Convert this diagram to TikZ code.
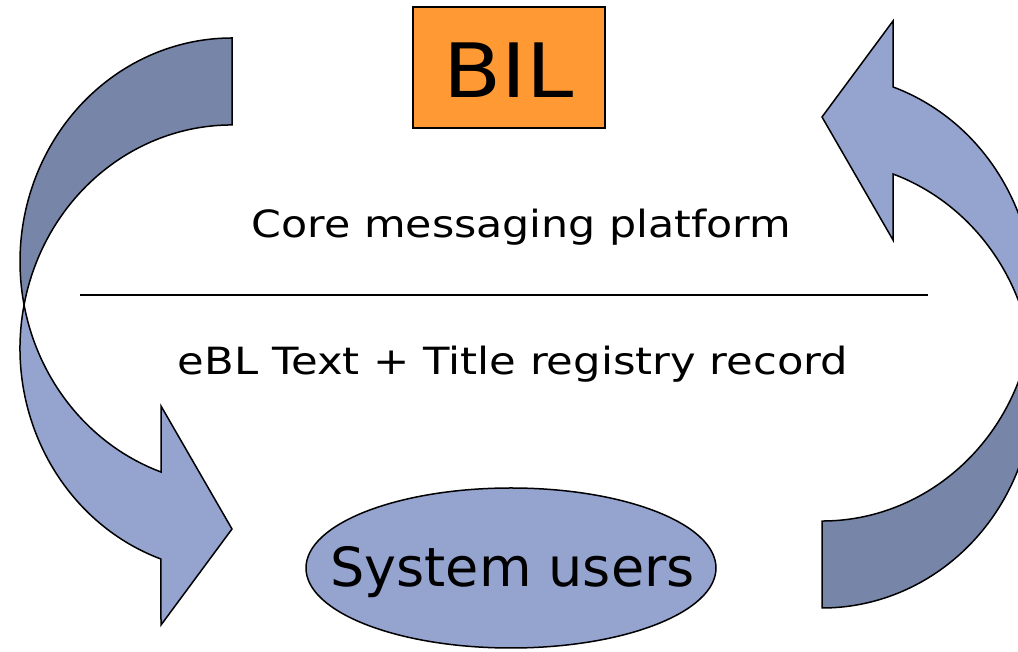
\documentclass[tikz,border=0pt]{standalone}
\usepackage{fontspec}
\usepackage{graphicx}
\setmainfont{DejaVu Sans}
\usetikzlibrary{shapes.geometric}
\definecolor{lightarrow}{HTML}{95A3CF}
\definecolor{darkarrow}{HTML}{7785A8}
\definecolor{bilorange}{HTML}{FF9933}
\newcommand\widetext[2]{\scalebox{#1}[1]{#2}}
\newcommand\curvedarrowshape{%
  \draw[outline, fill=darkarrow] (232,614)
    arc[x radius=212, y radius=223.5, start angle=90, end angle=191.22]
    arc[x radius=212, y radius=223.5, start angle=168.78, end angle=90] -- cycle;
  \draw[outline, fill=lightarrow] (24.05,347)
    arc[x radius=212, y radius=223.5, start angle=168.78, end angle=250.43]
    -- (161,27) -- (232,123) -- (161,246) -- (161,180)
    arc[x radius=212, y radius=223.5, start angle=250.43, end angle=191.22] -- cycle;
}
\begin{document}
\begin{tikzpicture}[x=1pt,y=1pt,
  outline/.style={draw=black, line width=1.5pt, line join=miter},
  label/.style={anchor=base, inner sep=0pt, font=\fontsize{37.5}{45}\selectfont}]
\useasboundingbox (0,0) rectangle (1018,652);
\clip (0,0) rectangle (1018,652);
% left curved arrow
\curvedarrowshape
% right curved arrow (same shape turned half round)
\begin{scope}[rotate around={180:(527,329)}]
\curvedarrowshape
\end{scope}
% BIL box
\node[outline, fill=bilorange, rectangle, minimum width=192pt, minimum height=121pt,
  inner sep=0pt, text height=61pt, text depth=0pt,
  font=\fontsize{75}{80}\selectfont] (bil) at (509,584.5) {\widetext{1.13}{BIL}};
% system users
\node[outline, fill=lightarrow, ellipse, minimum width=410pt, minimum height=160pt,
  inner sep=0pt] (users) at (511,84) {};
\node[anchor=base, inner sep=0pt, font=\fontsize{54}{60}\selectfont] (userstext) at (512.5,65) {System users};
% texts
\node[label] (core) at (521.5,414) {\widetext{1.14}{Core messaging platform}};
\node[label] (ebl) at (513,277) {\widetext{1.155}{eBL Text + Title registry record}};
% separator line
\coordinate (lineL) at (80,357);
\coordinate (lineR) at (928,357);
\draw[line width=1.2pt] (lineL) -- (lineR);
\end{tikzpicture}
\end{document}
